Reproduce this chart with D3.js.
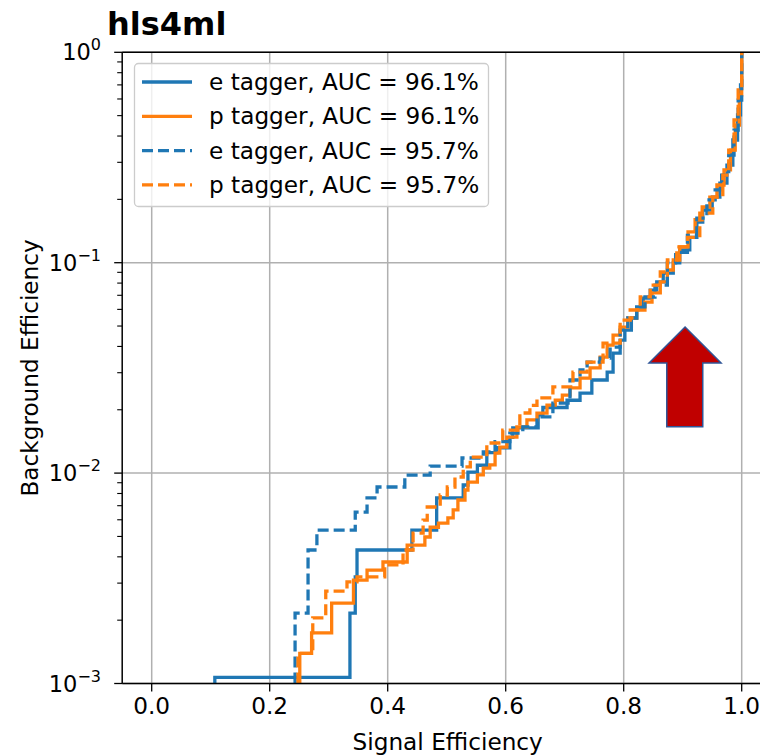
<!DOCTYPE html>
<html>
<head>
<meta charset="utf-8">
<script src="https://cdn.jsdelivr.net/npm/d3@7"></script>
<style>
	body { margin: 0; background: #fff; }
	text { font-family: 'DejaVu Sans', sans-serif; }
</style>
</head>
<body>
<div id="roc"></div>
<script>
'use strict';

// series: [signal efficiency, background efficiency]
let eSolid = [[0.107, 0.001], [0.107, 0.00107], [0.336, 0.00216], [0.345, 0.00321], [0.348, 0.00431],
	[0.441, 0.00536], [0.483, 0.00762], [0.528, 0.00878], [0.536, 0.0101], [0.552, 0.0109],
	[0.568, 0.0125], [0.585, 0.0132], [0.607, 0.0148], [0.612, 0.0164], [0.655, 0.0189],
	[0.663, 0.0205], [0.704, 0.0222], [0.726, 0.0240], [0.746, 0.0277], [0.772, 0.0302],
	[0.782, 0.0372], [0.794, 0.0429], [0.802, 0.0478], [0.813, 0.0546], [0.822, 0.0616],
	[0.833, 0.0679], [0.845, 0.0741], [0.856, 0.0810], [0.867, 0.0892], [0.884, 0.0998],
	[0.895, 0.115], [0.912, 0.132], [0.924, 0.156], [0.934, 0.178], [0.950, 0.205],
	[0.963, 0.239], [0.975, 0.291], [0.985, 0.383], [0.993, 0.504], [0.998, 0.699], [1.0, 1.0]];

let pSolid = [[0.248, 0.001], [0.251, 0.00139], [0.271, 0.00174], [0.305, 0.00241], [0.342, 0.0031],
	[0.365, 0.00346], [0.392, 0.00378], [0.433, 0.00455], [0.463, 0.00497], [0.472, 0.00553],
	[0.486, 0.00578], [0.502, 0.00612], [0.511, 0.00668], [0.519, 0.00745], [0.531, 0.00831],
	[0.536, 0.00906], [0.552, 0.0098], [0.562, 0.01057], [0.573, 0.01093], [0.582, 0.01246],
	[0.590, 0.0133], [0.602, 0.01484], [0.619, 0.01656], [0.636, 0.0179], [0.653, 0.01929],
	[0.670, 0.02104], [0.684, 0.0222], [0.696, 0.0235], [0.709, 0.0254], [0.726, 0.0283],
	[0.743, 0.0316], [0.760, 0.0356], [0.772, 0.0406], [0.782, 0.0453], [0.794, 0.0494],
	[0.807, 0.0546], [0.822, 0.0596], [0.836, 0.0650], [0.848, 0.0718], [0.862, 0.0810],
	[0.874, 0.0923], [0.884, 0.103], [0.895, 0.119], [0.909, 0.140], [0.921, 0.160],
	[0.933, 0.184], [0.946, 0.205], [0.958, 0.234], [0.970, 0.276], [0.981, 0.343],
	[0.989, 0.451], [0.996, 0.627], [1.0, 1.0]];

let eDash = [[0.243, 0.001], [0.243, 0.00216], [0.265, 0.00431], [0.280, 0.00536], [0.345, 0.00653],
	[0.365, 0.00762], [0.382, 0.00859], [0.429, 0.00979], [0.472, 0.0108], [0.526, 0.0118],
	[0.562, 0.0126], [0.582, 0.0141], [0.607, 0.0155], [0.629, 0.0166], [0.653, 0.0185],
	[0.680, 0.0215], [0.709, 0.0277], [0.726, 0.0309], [0.738, 0.0337], [0.760, 0.0352],
	[0.777, 0.0397], [0.794, 0.0478], [0.807, 0.0546], [0.822, 0.0616], [0.836, 0.0687],
	[0.853, 0.0783], [0.874, 0.0998], [0.888, 0.112], [0.908, 0.135], [0.924, 0.163],
	[0.941, 0.199], [0.955, 0.222], [0.966, 0.261], [0.978, 0.325], [0.987, 0.427],
	[0.994, 0.593], [1.0, 1.0]];

let pDash = [[0.248, 0.001], [0.248, 0.00139], [0.273, 0.00205], [0.295, 0.00275], [0.331, 0.00304],
	[0.348, 0.00321], [0.395, 0.00366], [0.426, 0.00431], [0.443, 0.00519], [0.460, 0.00598],
	[0.467, 0.0069], [0.489, 0.00787], [0.501, 0.00859], [0.514, 0.00958], [0.528, 0.0107],
	[0.540, 0.0119], [0.568, 0.0139], [0.595, 0.0160], [0.624, 0.0193], [0.641, 0.0210],
	[0.653, 0.0228], [0.680, 0.0257], [0.714, 0.0302], [0.738, 0.0337], [0.765, 0.0415],
	[0.794, 0.0534], [0.811, 0.0596], [0.828, 0.0688], [0.845, 0.0783], [0.862, 0.0903],
	[0.874, 0.103], [0.890, 0.119], [0.908, 0.132], [0.929, 0.172], [0.951, 0.205],
	[0.968, 0.261], [0.978, 0.343], [0.987, 0.477], [0.994, 0.662], [1.0, 1.0]];

let seriesNames = ['e tagger, AUC = 96.1%', 'p tagger, AUC = 96.1%', 'e tagger, AUC = 95.7%', 'p tagger, AUC = 95.7%'];
let xTicks = [0.0, 0.2, 0.4, 0.6, 0.8, 1.0];
let yExponents = [0, -1, -2, -3];
// up arrow outline, in data units
let arrowPts = [[0.904, 0.0495], [0.965, 0.0334], [0.934, 0.0334], [0.934, 0.0166],
	[0.873, 0.0166], [0.873, 0.0334], [0.843, 0.0334]];

let series = [
	{name: seriesNames[0], pts: eSolid, color: '#1f77b4', dash: null},
	{name: seriesNames[1], pts: pSolid, color: '#ff7f0e', dash: null},
	{name: seriesNames[2], pts: eDash, color: '#1f77b4', dash: '11,5'},
	{name: seriesNames[3], pts: pDash, color: '#ff7f0e', dash: '11,5'}
];

let W = 760, H = 755;
let pLeft = 122.2, pRight = 771.2, pTop = 52.3, pBottom = 683.5;
let fs = '23.2px';

let svg = d3.select('div#roc').append('svg')
	.attr('width', W)
	.attr('height', H);

let x = d3.scaleLinear().domain([-0.05, 1.05]).range([pLeft, pRight]);
let y = d3.scaleLog().domain([1e-3, 1]).range([pBottom, pTop]);

svg.append('defs').append('clipPath')
	.attr('id', 'plotclip')
	.append('rect')
	.attr('x', pLeft).attr('y', pTop - 2)
	.attr('width', pRight - pLeft).attr('height', pBottom - pTop + 2);

// grid
svg.append('g').selectAll('line.vgrid')
	.data(xTicks)
	.join('line')
	.attr('x1', d=>x(d)).attr('x2', d=>x(d))
	.attr('y1', pTop).attr('y2', pBottom)
	.style('stroke', '#b0b0b0').style('stroke-width', 1.5);

svg.append('g').selectAll('line.hgrid')
	.data(yExponents)
	.join('line')
	.attr('x1', pLeft).attr('x2', pRight)
	.attr('y1', d=>y(Math.pow(10, d))).attr('y2', d=>y(Math.pow(10, d)))
	.style('stroke', '#b0b0b0').style('stroke-width', 1.5);

// curves
let line = d3.line()
	.x(d=>x(d[0]))
	.y(d=>y(d[1]))
	.curve(d3.curveStepAfter);

svg.append('g')
	.attr('clip-path', 'url(#plotclip)')
	.selectAll('path.roc')
	.data(series)
	.join('path')
	.attr('d', d=>line(d.pts))
	.style('fill', 'none')
	.style('stroke', d=>d.color)
	.style('stroke-width', 3.3)
	.style('stroke-dasharray', d=>d.dash);

// arrow
svg.append('path')
	.attr('d', d3.line().x(d=>x(d[0])).y(d=>y(d[1]))(arrowPts) + 'Z')
	.style('fill', '#c00000')
	.style('stroke', '#2f5597')
	.style('stroke-width', 1.5);

// axes spines
svg.append('line')
	.attr('x1', pLeft).attr('x2', pRight).attr('y1', pBottom).attr('y2', pBottom)
	.style('stroke', '#000').style('stroke-width', 1.5);
svg.append('line')
	.attr('x1', pLeft).attr('x2', pRight).attr('y1', pTop).attr('y2', pTop)
	.style('stroke', '#000').style('stroke-width', 1.5);
svg.append('line')
	.attr('x1', pLeft).attr('x2', pLeft).attr('y1', pTop).attr('y2', pBottom)
	.style('stroke', '#000').style('stroke-width', 1.5);

// x ticks
let xAxis = svg.append('g');
xAxis.selectAll('line')
	.data(xTicks)
	.join('line')
	.attr('x1', d=>x(d)).attr('x2', d=>x(d))
	.attr('y1', pBottom).attr('y2', pBottom + 8)
	.style('stroke', '#000').style('stroke-width', 1.3);
xAxis.selectAll('text')
	.data(xTicks)
	.join('text')
	.attr('x', d=>x(d))
	.attr('y', 714)
	.attr('text-anchor', 'middle')
	.style('font-size', fs)
	.text(d=>d.toFixed(1));

// y ticks (major + minor)
let minor = [];
for (let e = -3; e < 0; e++) {
	for (let m = 2; m < 10; m++) minor.push(m * Math.pow(10, e));
}
let yAxis = svg.append('g');
yAxis.selectAll('line.major')
	.data(yExponents)
	.join('line')
	.attr('x1', pLeft - 8).attr('x2', pLeft)
	.attr('y1', d=>y(Math.pow(10, d))).attr('y2', d=>y(Math.pow(10, d)))
	.style('stroke', '#000').style('stroke-width', 1.3);
yAxis.selectAll('line.minor')
	.data(minor)
	.join('line')
	.attr('x1', pLeft - 5).attr('x2', pLeft)
	.attr('y1', d=>y(d)).attr('y2', d=>y(d))
	.style('stroke', '#000').style('stroke-width', 1.1);

let yLabels = yAxis.selectAll('text')
	.data(yExponents)
	.join('text')
	.attr('x', 101)
	.attr('y', d=>y(Math.pow(10, d)) + 8)
	.attr('text-anchor', 'end')
	.style('font-size', '22.5px');
yLabels.append('tspan').text('10');
yLabels.append('tspan')
	.attr('dy', -10)
	.style('font-size', '16px')
	.text(d=>d === 0 ? '0' : '\u2212' + Math.abs(d));

// axis labels and title
svg.append('text')
	.attr('x', (x(0) + x(1)) / 2 + 1)
	.attr('y', 750)
	.attr('text-anchor', 'middle')
	.style('font-size', fs)
	.text('Signal Efficiency');

svg.append('text')
	.attr('transform', 'translate(38,' + ((pTop + pBottom) / 2) + ') rotate(-90)')
	.attr('text-anchor', 'middle')
	.style('font-size', fs)
	.text('Background Efficiency');

svg.append('text')
	.attr('x', 107)
	.attr('y', 35)
	.style('font-size', '32px')
	.style('font-weight', 'bold')
	.text('hls4ml');

// legend
let legend = svg.append('g');
legend.append('rect')
	.attr('x', 134.5).attr('y', 63.5)
	.attr('width', 354).attr('height', 143)
	.attr('rx', 4)
	.style('fill', 'rgba(255,255,255,0.8)')
	.style('stroke', '#cccccc')
	.style('stroke-width', 1.3);

let rows = legend.selectAll('g.row')
	.data(series)
	.join('g')
	.attr('transform', (d, i)=>'translate(0,' + (82 + i * 34.3) + ')');
rows.append('line')
	.attr('x1', 142).attr('x2', 192)
	.style('stroke', d=>d.color)
	.style('stroke-width', 3.3)
	.style('stroke-dasharray', d=>d.dash);
rows.append('text')
	.attr('x', 209)
	.attr('y', 8)
	.style('font-size', fs)
	.text(d=>d.name);
</script>
</body>
</html>
